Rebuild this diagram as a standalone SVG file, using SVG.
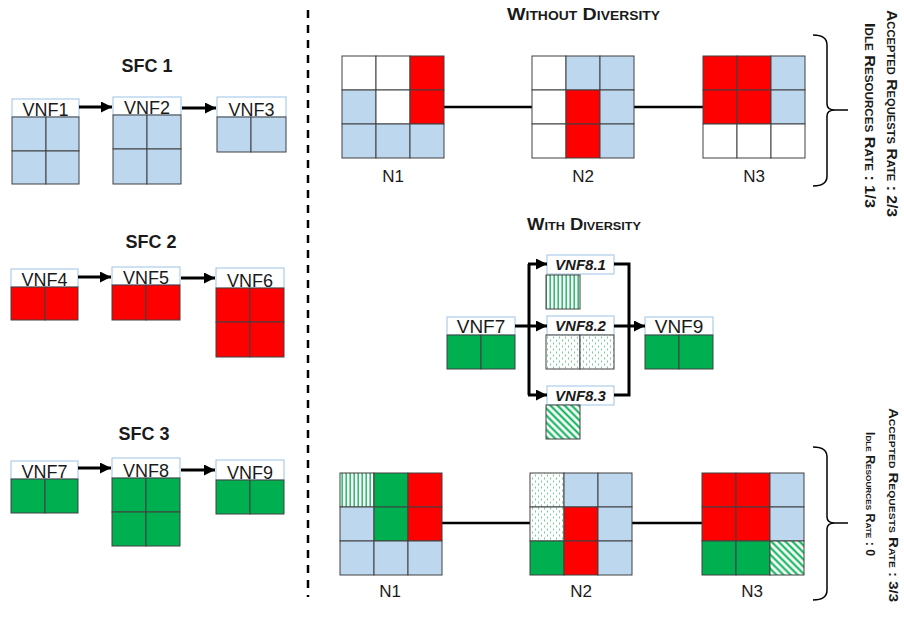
<svg xmlns="http://www.w3.org/2000/svg" width="904" height="625" viewBox="0 0 904 625">
  <style>
    .c { stroke: #404040; stroke-width: 1; }
    .b { fill: #bdd7ee; }
    .r { fill: #ff0000; }
    .g { fill: #00b050; }
    .w { fill: #ffffff; }
    .vs { fill: url(#vstripe); }
    .dt { fill: url(#dots); }
    .dg { fill: url(#diag); }
    .lbl { fill: #ffffff; stroke: #9dc3e6; stroke-width: 1; }
    .t { font-family: "Liberation Sans", Arial, sans-serif; fill: #1a1a1a; text-anchor: middle; }
    .vt { font-size: 18px; }
    .mt { font-size: 19px; }
    .it { font-size: 15px; font-weight: bold; font-style: italic; }
    .ttl { font-size: 18px; font-weight: bold; }
    .sc { font-family: "Liberation Sans", Arial, sans-serif; font-weight: bold; font-variant: small-caps; fill: #1a1a1a; }
    .nl { font-size: 17px; }
    .arr { stroke: #000; stroke-width: 3; fill: none; marker-end: url(#ah); }
    .ln { stroke: #000; stroke-width: 3; fill: none; }
    .link { stroke: #000; stroke-width: 2.5; }
    .brace { stroke: #000; stroke-width: 1.5; fill: none; }
  </style>
  <defs>
    <marker id="ah" markerUnits="userSpaceOnUse" markerWidth="11" markerHeight="11" refX="11" refY="5.5" orient="auto">
      <path d="M0,0 L11,5.5 L0,11 z" fill="#000"/>
    </marker>
    <pattern id="vstripe" patternUnits="userSpaceOnUse" width="4" height="8">
      <rect width="4" height="8" fill="#fff"/>
      <rect x="1.5" width="1.3" height="8" fill="#00b050"/>
    </pattern>
    <pattern id="dots" patternUnits="userSpaceOnUse" width="6" height="6">
      <rect width="6" height="6" fill="#fff"/>
      <rect x="1" y="0.5" width="1" height="2" fill="#6fcf97"/>
      <rect x="4" y="3.5" width="1" height="2" fill="#6fcf97"/>
    </pattern>
    <pattern id="diag" patternUnits="userSpaceOnUse" width="5" height="10" patternTransform="rotate(-45)">
      <rect width="5" height="10" fill="#fff"/>
      <rect x="1.5" width="2" height="10" fill="#00b050"/>
    </pattern>
  </defs>

  <!-- separator -->
  <line x1="308" y1="10" x2="308" y2="597" stroke="#000" stroke-width="2.5" stroke-dasharray="8 7"/>

  <!-- ===== service function chains ===== -->
  <text class="t ttl" x="147" y="72">SFC 1</text>
  <text class="t ttl" x="151" y="248">SFC 2</text>
  <text class="t ttl" x="144" y="440">SFC 3</text>

  <g id="vnf1">
    <rect class="lbl" x="12" y="99" width="67" height="18"/>
    <text class="t vt" x="45.5" y="116">VNF1</text>
    <rect class="c b" x="12" y="117" width="34" height="34"/><rect class="c b" x="46" y="117" width="33" height="34"/>
    <rect class="c b" x="12" y="151" width="34" height="33"/><rect class="c b" x="46" y="151" width="33" height="33"/>
  </g>
  <g id="vnf2">
    <rect class="lbl" x="113" y="97" width="68" height="18"/>
    <text class="t vt" x="147" y="114">VNF2</text>
    <rect class="c b" x="113" y="115" width="34" height="34"/><rect class="c b" x="147" y="115" width="34" height="34"/>
    <rect class="c b" x="113" y="149" width="34" height="35"/><rect class="c b" x="147" y="149" width="34" height="35"/>
  </g>
  <g id="vnf3">
    <rect class="lbl" x="217" y="97" width="69" height="20"/>
    <text class="t vt" x="251.5" y="116">VNF3</text>
    <rect class="c b" x="217" y="117" width="34" height="35"/><rect class="c b" x="251" y="117" width="35" height="35"/>
  </g>

  <g id="vnf4">
    <rect class="lbl" x="11" y="269" width="67" height="18"/>
    <text class="t vt" x="44.5" y="286">VNF4</text>
    <rect class="c r" x="11" y="287" width="34" height="33"/><rect class="c r" x="45" y="287" width="33" height="33"/>
  </g>
  <g id="vnf5">
    <rect class="lbl" x="112" y="267" width="68" height="18"/>
    <text class="t vt" x="146" y="284">VNF5</text>
    <rect class="c r" x="112" y="285" width="34" height="35"/><rect class="c r" x="146" y="285" width="34" height="35"/>
  </g>
  <g id="vnf6">
    <rect class="lbl" x="216" y="268" width="68" height="20"/>
    <text class="t vt" x="250" y="287">VNF6</text>
    <rect class="c r" x="216" y="288" width="34" height="34"/><rect class="c r" x="250" y="288" width="34" height="34"/>
    <rect class="c r" x="216" y="322" width="34" height="35"/><rect class="c r" x="250" y="322" width="34" height="35"/>
  </g>

  <g id="vnf7">
    <rect class="lbl" x="11" y="461" width="67" height="18"/>
    <text class="t vt" x="44.5" y="478">VNF7</text>
    <rect class="c g" x="11" y="479" width="34" height="34"/><rect class="c g" x="45" y="479" width="33" height="34"/>
  </g>
  <g id="vnf8">
    <rect class="lbl" x="112" y="458" width="68" height="20"/>
    <text class="t vt" x="146" y="477">VNF8</text>
    <rect class="c g" x="112" y="478" width="34" height="34"/><rect class="c g" x="146" y="478" width="34" height="34"/>
    <rect class="c g" x="112" y="512" width="34" height="34"/><rect class="c g" x="146" y="512" width="34" height="34"/>
  </g>
  <g id="vnf9">
    <rect class="lbl" x="216" y="460" width="68" height="20"/>
    <text class="t vt" x="250" y="479">VNF9</text>
    <rect class="c g" x="216" y="480" width="34" height="34"/><rect class="c g" x="250" y="480" width="34" height="34"/>
  </g>

  <g id="sfc-connectors">
    <line class="arr" x1="79" y1="107" x2="112" y2="107"/>
    <line class="arr" x1="182" y1="108" x2="216" y2="108"/>
    <line class="arr" x1="78" y1="277" x2="111" y2="277"/>
    <line class="arr" x1="181" y1="278" x2="215" y2="278"/>
    <line class="arr" x1="78" y1="468" x2="111" y2="468"/>
    <line class="arr" x1="181" y1="470" x2="215" y2="470"/>
  </g>

  <!-- ===== placement without diversity ===== -->
  <text class="sc" x="507" y="20" font-size="17" textLength="153" lengthAdjust="spacingAndGlyphs">Without Diversity</text>

  <g id="links-top">
    <line class="link" x1="444" y1="107" x2="532" y2="107"/>
    <line class="link" x1="634" y1="107" x2="703" y2="107"/>
  </g>

  <g id="top-n1">
    <rect class="c w" x="342" y="56" width="34" height="34"/><rect class="c w" x="376" y="56" width="34" height="34"/><rect class="c r" x="410" y="56" width="34" height="34"/>
    <rect class="c b" x="342" y="90" width="34" height="34"/><rect class="c w" x="376" y="90" width="34" height="34"/><rect class="c r" x="410" y="90" width="34" height="34"/>
    <rect class="c b" x="342" y="124" width="34" height="34"/><rect class="c b" x="376" y="124" width="34" height="34"/><rect class="c b" x="410" y="124" width="34" height="34"/>
    <text class="t nl" x="393" y="182">N1</text>
  </g>
  <g id="top-n2">
    <rect class="c w" x="532" y="56" width="34" height="34"/><rect class="c b" x="566" y="56" width="34" height="34"/><rect class="c b" x="600" y="56" width="34" height="34"/>
    <rect class="c w" x="532" y="90" width="34" height="34"/><rect class="c r" x="566" y="90" width="34" height="34"/><rect class="c b" x="600" y="90" width="34" height="34"/>
    <rect class="c w" x="532" y="124" width="34" height="34"/><rect class="c r" x="566" y="124" width="34" height="34"/><rect class="c b" x="600" y="124" width="34" height="34"/>
    <text class="t nl" x="583" y="182">N2</text>
  </g>
  <g id="top-n3">
    <rect class="c r" x="703" y="56" width="34" height="34"/><rect class="c r" x="737" y="56" width="34" height="34"/><rect class="c b" x="771" y="56" width="34" height="34"/>
    <rect class="c r" x="703" y="90" width="34" height="34"/><rect class="c r" x="737" y="90" width="34" height="34"/><rect class="c b" x="771" y="90" width="34" height="34"/>
    <rect class="c w" x="703" y="124" width="34" height="34"/><rect class="c w" x="737" y="124" width="34" height="34"/><rect class="c w" x="771" y="124" width="34" height="34"/>
    <text class="t nl" x="754" y="182">N3</text>
  </g>

  <path class="brace" d="M813,35 Q827,35 827,45 V104 Q827,110 835,110 H848 M835,110 Q827,110 827,116 V176 Q827,186 813,186"/>
  <text class="sc" transform="translate(887,10) rotate(90)" font-size="14" textLength="207" lengthAdjust="spacingAndGlyphs">Accepted  Requests Rate : 2/3</text>
  <text class="sc" transform="translate(865,23) rotate(90)" font-size="14" textLength="185" lengthAdjust="spacingAndGlyphs">Idle Resources Rate : 1/3</text>

  <!-- ===== chain with diversity ===== -->
  <text class="sc" x="527" y="230" font-size="16" textLength="114" lengthAdjust="spacingAndGlyphs">With Diversity</text>

  <g id="d-vnf7">
    <rect class="lbl" x="447" y="317" width="68" height="18"/>
    <text class="t mt" x="481" y="333">VNF7</text>
    <rect class="c g" x="447" y="335" width="34" height="34"/><rect class="c g" x="481" y="335" width="34" height="34"/>
  </g>
  <g id="d-vnf8-1">
    <rect class="lbl" x="547" y="255" width="67" height="19"/>
    <text class="t it" x="580.5" y="270">VNF8.1</text>
    <rect class="c vs" x="546" y="275" width="34" height="34"/>
  </g>
  <g id="d-vnf8-2">
    <rect class="lbl" x="547" y="316" width="67" height="19"/>
    <text class="t it" x="580.5" y="331">VNF8.2</text>
    <rect class="c dt" x="546" y="335" width="34" height="34"/><rect class="c dt" x="580" y="335" width="34" height="34"/>
  </g>
  <g id="d-vnf8-3">
    <rect class="lbl" x="547" y="386" width="67" height="19"/>
    <text class="t it" x="580.5" y="401">VNF8.3</text>
    <rect class="c dg" x="546" y="405" width="34" height="34"/>
  </g>
  <g id="d-vnf9">
    <rect class="lbl" x="645" y="317" width="68" height="18"/>
    <text class="t mt" x="679" y="333">VNF9</text>
    <rect class="c g" x="645" y="335" width="34" height="34"/><rect class="c g" x="679" y="335" width="34" height="34"/>
  </g>

  <g id="diversity-connectors">
    <path class="ln" d="M515,326 H529 M529,264 V395"/>
    <line class="arr" x1="528" y1="264" x2="547" y2="264"/>
    <line class="arr" x1="529" y1="326" x2="547" y2="326"/>
    <line class="arr" x1="528" y1="395" x2="547" y2="395"/>
    <path class="ln" d="M614,264 H629 V395 H614"/>
    <line class="arr" x1="614" y1="326" x2="645" y2="326"/>
  </g>

  <!-- ===== placement with diversity ===== -->
  <g id="links-bottom">
    <line class="link" x1="442" y1="523" x2="530" y2="523"/>
    <line class="link" x1="632" y1="523" x2="702" y2="523"/>
  </g>

  <g id="bot-n1">
    <rect class="c vs" x="340" y="473" width="34" height="34"/><rect class="c g" x="374" y="473" width="34" height="34"/><rect class="c r" x="408" y="473" width="34" height="34"/>
    <rect class="c b" x="340" y="507" width="34" height="34"/><rect class="c g" x="374" y="507" width="34" height="34"/><rect class="c r" x="408" y="507" width="34" height="34"/>
    <rect class="c b" x="340" y="541" width="34" height="34"/><rect class="c b" x="374" y="541" width="34" height="34"/><rect class="c b" x="408" y="541" width="34" height="34"/>
    <text class="t nl" x="390" y="597">N1</text>
  </g>
  <g id="bot-n2">
    <rect class="c dt" x="530" y="473" width="34" height="34"/><rect class="c b" x="564" y="473" width="34" height="34"/><rect class="c b" x="598" y="473" width="34" height="34"/>
    <rect class="c dt" x="530" y="507" width="34" height="34"/><rect class="c r" x="564" y="507" width="34" height="34"/><rect class="c b" x="598" y="507" width="34" height="34"/>
    <rect class="c g" x="530" y="541" width="34" height="34"/><rect class="c r" x="564" y="541" width="34" height="34"/><rect class="c b" x="598" y="541" width="34" height="34"/>
    <text class="t nl" x="581" y="597">N2</text>
  </g>
  <g id="bot-n3">
    <rect class="c r" x="702" y="473" width="34" height="34"/><rect class="c r" x="736" y="473" width="34" height="34"/><rect class="c b" x="770" y="473" width="34" height="34"/>
    <rect class="c r" x="702" y="507" width="34" height="34"/><rect class="c r" x="736" y="507" width="34" height="34"/><rect class="c b" x="770" y="507" width="34" height="34"/>
    <rect class="c g" x="702" y="541" width="34" height="34"/><rect class="c g" x="736" y="541" width="34" height="34"/><rect class="c dg" x="770" y="541" width="34" height="34"/>
    <text class="t nl" x="752" y="597">N3</text>
  </g>

  <path class="brace" d="M813,447 Q827,447 827,457 V517 Q827,523 835,523 H848 M835,523 Q827,523 827,529 V590 Q827,600 813,600"/>
  <text class="sc" transform="translate(889,408) rotate(90)" font-size="13" textLength="194" lengthAdjust="spacingAndGlyphs">Accepted  Requests Rate : 3/3</text>
  <text class="sc" transform="translate(866,432) rotate(90)" font-size="12" textLength="124" lengthAdjust="spacingAndGlyphs">Idle Resources Rate : 0</text>
</svg>
